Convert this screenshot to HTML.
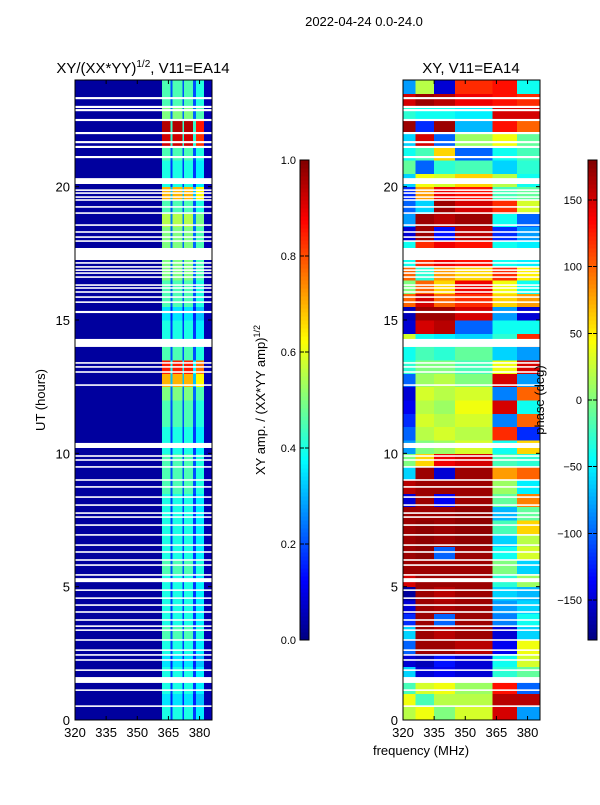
<!DOCTYPE html>
<html><head><meta charset="utf-8"><style>
body{margin:0;background:#fff;width:600px;height:800px;overflow:hidden}
svg{font-family:"Liberation Sans",sans-serif}
</style></head><body>
<svg id="fig" width="600" height="800">
<text x="364" y="26" font-size="13" text-anchor="middle">2022-04-24 0.0-24.0</text>
</svg>
<script>
// ---- data ----
const timeBins = [0,0.5,1,1.5,2,2.5,3,3.5,4,4.5,5,5.5,6,6.5,7,7.5,8,8.5,9,9.5,10,10.5,11,11.5,12,12.5,13,13.5,14,14.5,15,15.5,16,16.5,17,17.5,18,18.5,19,19.5,20,20.5,21,21.5,22,22.5,23,23.5];
const ampPeak = [0.4,0.35,0.4,0.4,0.35,0.4,0.45,0.4,0.4,0.4,0.4,0.45,0.4,0.4,0.4,0.4,0.4,0.45,0.45,0.45,0.4,0.4,0.45,0.45,0.5,0.7,0.85,0.45,0.4,0.4,0.35,0.45,0.45,0.5,0.5,0.5,0.5,0.55,0.45,0.7,0.4,0.4,0.45,0.92,0.95,0.5,0.45,0.45];
const ampBandEdges = [320,361.8,366.1,367,371.9,372.6,376.9,378.3,382.1,386];
const ampBandWeight = [0.03,1,0.45,1,0.45,1,0.45,0.9,0.05];
const phaseBandEdges = [320,326,335,345,363,375,386];
const phaseValues = [
[20,40,0,30,150,-80],[40,-20,20,20,160,160],[-20,30,40,10,130,-100],[-60,-150,-140,-150,-30,-10],
[-150,-160,-130,-150,-40,30],[-100,170,170,160,-140,40],[-60,170,160,170,-150,-60],[-120,170,-100,170,-90,-40],
[-150,170,165,170,-80,-60],[-170,170,160,170,-60,-70],[150,170,170,170,-30,10],[170,170,170,170,0,-60],
[170,175,-100,170,-40,30],[170,175,170,175,-60,20],[170,175,170,175,-20,60],[170,170,170,175,-70,-10],
[-150,170,-140,170,-10,90],[160,170,170,170,10,-50],[-60,170,-150,170,80,100],[0,60,140,150,-20,-30],
[-80,0,10,30,-40,60],[-100,20,30,20,120,-120],[-120,30,20,30,-90,100],[-140,20,10,40,150,-40],
[-150,30,20,30,-90,100],[-100,10,20,0,150,-80],[-30,0,0,-20,40,150],[-40,-20,-30,-10,-60,-80],
[30,-40,-50,-60,-30,120],[-150,150,160,-100,-40,-40],[-160,170,170,150,-80,-150],[100,150,100,120,60,80],
[0,100,60,140,40,-40],[100,-30,80,60,120,50],[-40,120,140,130,-40,-50],[-40,120,140,130,-40,-50],
[-150,170,-130,160,-120,-80],[-80,170,160,170,-40,-100],[-100,-60,170,150,120,30],[-120,80,140,130,-20,-10],
[-60,40,30,60,20,-40],[-10,-100,-30,-20,-60,-30],[-40,-20,60,-100,-40,-20],[-60,150,-100,10,40,-10],
[170,-120,170,-70,130,100],[-30,-40,-40,-50,150,150],[150,170,160,140,130,120],[-80,20,-150,120,130,-40]];
const gapStart = [23.28,22.95,22.83,22.46,21.97,21.63,21.45,21.07,20.1,19.84,19.73,19.58,19.47,19.21,18.98,18.53,18.27,18.08,17.93,17.25,17.11,16.96,16.84,16.73,16.58,16.28,16.17,16.02,15.83,15.64,15.26,13.99,13.36,13.21,13.02,12.53,10.2,9.87,9.72,9.46,8.97,8.71,8.33,8.03,7.73,7.58,7.28,6.91,6.53,6.27,5.97,5.78,5.41,5.17,4.84,4.54,4.28,4.02,3.72,3.49,3.34,2.97,2.59,2.41,2.22,1.84,1.39,1.09,0.49];
const gapEnd   = [23.36,23.03,22.91,22.54,22.05,21.71,21.53,21.15,20.32,19.9,19.79,19.64,19.53,19.27,19.04,18.59,18.33,18.14,17.99,17.7,17.17,17.02,16.9,16.79,16.64,16.34,16.23,16.08,15.89,15.7,15.34,14.29,13.42,13.27,13.08,12.59,10.39,9.93,9.78,9.52,9.03,8.77,8.39,8.09,7.79,7.64,7.34,6.97,6.59,6.33,6.03,5.84,5.47,5.32,4.9,4.6,4.34,4.08,3.78,3.55,3.4,3.03,2.65,2.47,2.28,1.9,1.61,1.15,0.55];
const xTicks = [320,335,350,365,380];
const yTicks = [0,5,10,15,20];
const ampTicks = [0.0,0.2,0.4,0.6,0.8,1.0];
const phaseTicks = [-150,-100,-50,0,50,100,150];

// ---- helpers ----
const NS="http://www.w3.org/2000/svg", fig=document.getElementById('fig');
function mk(tag,attrs,parent){const e=document.createElementNS(NS,tag);for(const k in attrs)e.setAttribute(k,attrs[k]);(parent||fig).appendChild(e);return e;}
function jet(v){v=Math.max(0,Math.min(1,v));
 const r=Math.max(0,Math.min(1,1.5-Math.abs(4*v-3))),g=Math.max(0,Math.min(1,1.5-Math.abs(4*v-2))),b=Math.max(0,Math.min(1,1.5-Math.abs(4*v-1)));
 return `rgb(${Math.round(r*255)},${Math.round(g*255)},${Math.round(b*255)})`;}
const T=80,B=720,FMIN=320,FMAX=386;
const yS=h=>B-(h/24)*(B-T);
function panel(L,R){return f=>L+(f-FMIN)/(FMAX-FMIN)*(R-L);}
const xL=panel(75,212), xR=panel(403,540);

function drawAxes(xs,L,R,name){
 const g=mk('g',{},fig);
 
 
 mk('rect',{x:L,y:T,width:R-L,height:B-T,fill:'none',stroke:'#000','stroke-width':1},g);
 xTicks.forEach(t=>{const x=xs(t);
  mk('line',{x1:x,x2:x,y1:B,y2:B-4,stroke:'#000'},g);mk('line',{x1:x,x2:x,y1:T,y2:T+4,stroke:'#000'},g);
  const tx=mk('text',{x:x,y:B+17,'font-size':13,'text-anchor':'middle'},g);tx.textContent=t;
  
  });
 yTicks.forEach(t=>{const y=yS(t);
  mk('line',{x1:L,x2:L+4,y1:y,y2:y,stroke:'#000'},g);mk('line',{x1:R,x2:R-4,y1:y,y2:y,stroke:'#000'},g);
  const tx=mk('text',{x:L-5,y:y+5,'font-size':13,'text-anchor':'end'},g);tx.textContent=t;
  
  });
}

// left heatmap
const hl=mk('g',{'shape-rendering':'crispEdges'});


timeBins.forEach((t,i)=>{ampBandWeight.forEach((w,j)=>{
 const v=j===0||j===ampBandWeight.length-1?w:ampPeak[i]*w;
 const r=mk('rect',{x:xL(ampBandEdges[j]),y:yS(t+0.5),width:xL(ampBandEdges[j+1])-xL(ampBandEdges[j])+0.5,height:yS(t)-yS(t+0.5)+0.5,fill:jet(v)},hl);
 
 });});
// right heatmap
const hr=mk('g',{'shape-rendering':'crispEdges'});


timeBins.forEach((t,i)=>{phaseValues[i].forEach((p,j)=>{
 const r=mk('rect',{x:xR(phaseBandEdges[j]),y:yS(t+0.5),width:xR(phaseBandEdges[j+1])-xR(phaseBandEdges[j])+0.5,height:yS(t)-yS(t+0.5)+0.5,fill:jet((p+180)/360)},hr);
 
 });});
// gaps
[[75,212],[403,540]].forEach(([L,R])=>{gapStart.forEach((s,k)=>{
 const r=mk('rect',{x:L,y:yS(gapEnd[k]),width:R-L,height:Math.max(1.5,yS(s)-yS(gapEnd[k])),fill:'#fff'});
 
 });});
drawAxes(xL,75,212,'left');drawAxes(xR,403,540,'right');

// colorbars
function colorbar(x,name,vmin,vmax,ticks,fmt){
 const g=mk('g',{'shape-rendering':'crispEdges'});
 
 
 const top=160,bot=640,n=120;
 for(let k=0;k<n;k++){mk('rect',{x:x,y:bot-(k+1)*(bot-top)/n,width:9,height:(bot-top)/n+0.6,fill:jet((k+0.5)/n)},g);}
 mk('rect',{x:x,y:top,width:9,height:bot-top,fill:'none',stroke:'#000'},g);
 ticks.forEach(t=>{const y=bot-(t-vmin)/(vmax-vmin)*(bot-top);
  mk('line',{x1:x+9,x2:x+5,y1:y,y2:y,stroke:'#000'},g);mk('line',{x1:x,x2:x+4,y1:y,y2:y,stroke:'#000'},g);
  const tx=mk('text',{x:x+(name==='amp-colorbar'?-4:-6),y:y+4,'font-size':11,'text-anchor':'end'},g);tx.textContent=fmt(t);
  
  });
}
colorbar(300,'amp-colorbar',0,1,ampTicks,t=>t.toFixed(1));
colorbar(588,'phase-colorbar',-180,180,phaseTicks,t=>t<0?'\u2212'+(-t):String(t));
</script>
<svg width="600" height="800" style="position:absolute;left:0;top:0;pointer-events:none">
<text x="143" y="73" font-size="15" text-anchor="middle">XY/(XX*YY)<tspan font-size="10" dy="-6">1/2</tspan><tspan dy="6">, V11=EA14</tspan></text>
<text x="471" y="73" font-size="15" text-anchor="middle">XY, V11=EA14</text>
<text transform="translate(45,400) rotate(-90)" font-size="13" text-anchor="middle">UT (hours)</text>
<text transform="translate(265,400) rotate(-90)" font-size="13" text-anchor="middle">XY amp. / (XX*YY amp)<tspan font-size="9" dy="-5">1/2</tspan></text>
<text transform="translate(544,400) rotate(-90)" font-size="13" text-anchor="middle">phase (deg)</text>
<text x="421" y="755" font-size="13" text-anchor="middle">frequency (MHz)</text>
</svg>
</body></html>
